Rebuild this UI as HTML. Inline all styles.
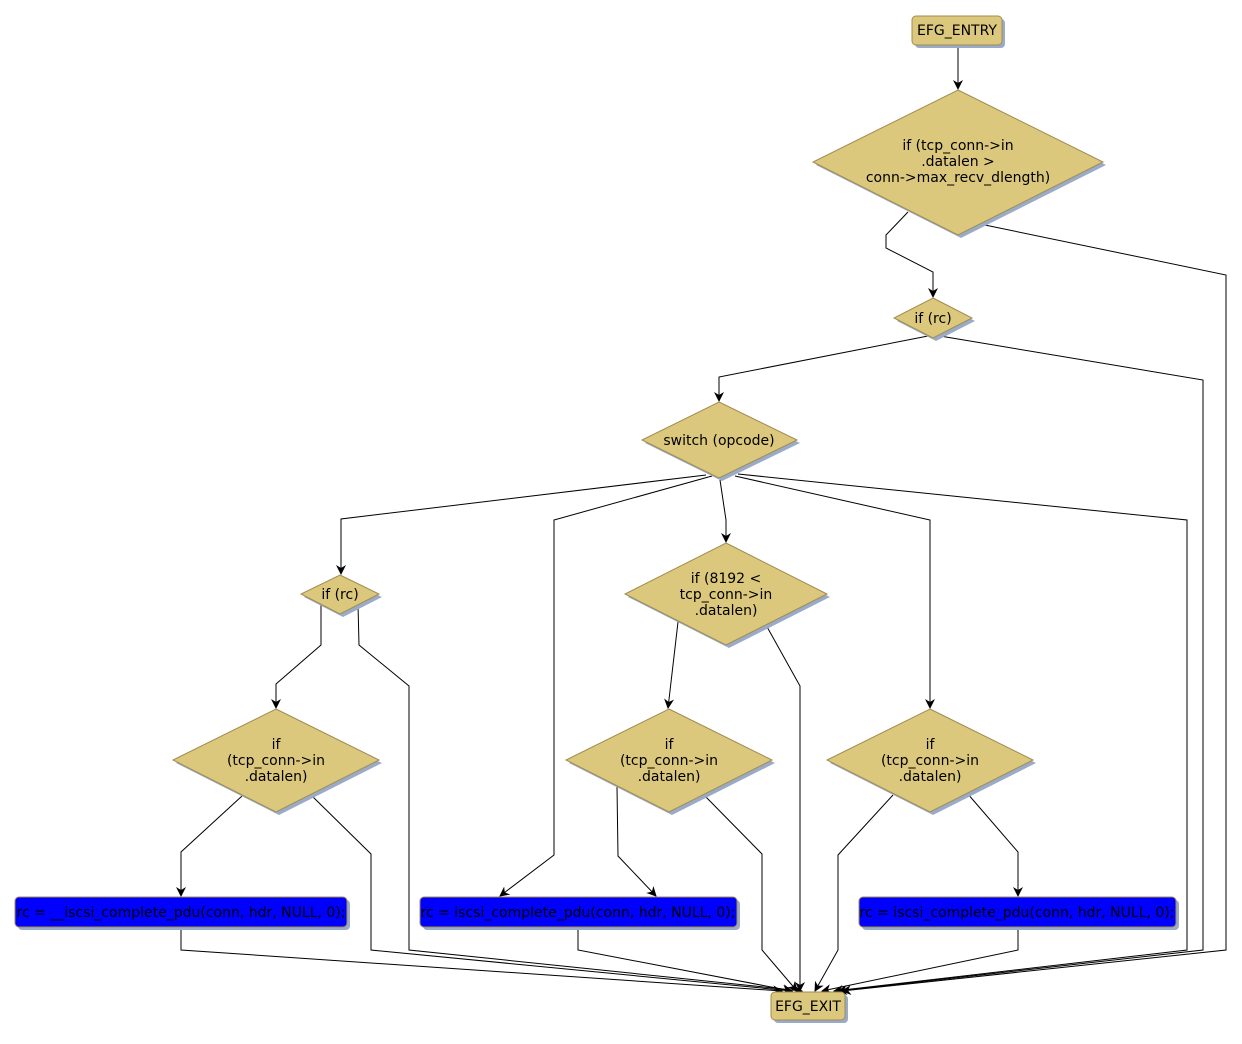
<!DOCTYPE html>
<html><head><meta charset="utf-8"><style>
html,body{margin:0;padding:0;background:#fff}
text{font-family:"DejaVu Sans","Liberation Sans",sans-serif;font-size:14px;fill:#000}
</style></head><body>
<svg width="1242" height="1039" viewBox="0 0 1242 1039" xmlns="http://www.w3.org/2000/svg">
<defs>
<marker id="a" markerWidth="10" markerHeight="10" refX="9" refY="5" orient="auto" markerUnits="userSpaceOnUse">
<path d="M0,0 L10,5 L0,10 L3,5 z" fill="#000"/></marker>
</defs>
<g fill="none" stroke="#000" stroke-width="1" marker-end="url(#a)">
<polyline points="958,45 958,89"/>
<polyline points="908,212 886,235 886,248 933,272 933,297"/>
<polyline points="980,224 1226,275 1226,950 842,991"/>
<polyline points="928,336 719,377 719,401"/>
<polyline points="940,336 1203,380 1203,950 838,991"/>
<polyline points="706,475 341,519 341,574"/>
<polyline points="712,476 554,520 554,855 500,896"/>
<polyline points="720,480 726,520 726,542"/>
<polyline points="735,476 930,520 930,708"/>
<polyline points="738,474 1187,520 1187,950 834,991"/>
<polyline points="321,604 321,645 276,684 276,708"/>
<polyline points="358,604 359,645 409,686 409,950 802,991"/>
<polyline points="678,622 668,708"/>
<polyline points="766,625 800,686 800,991"/>
<polyline points="242,796 181,852 181,896"/>
<polyline points="311,795 371,854 371,950 792,991"/>
<polyline points="617,787 618,856 656,896"/>
<polyline points="704,795 762,854 762,950 797,991"/>
<polyline points="893,795 838,855 838,950 815,991"/>
<polyline points="967,793 1018,852 1018,896"/>
<polyline points="181,927 181,950 782,991"/>
<polyline points="578,927 578,950 792,991"/>
<polyline points="1018,927 1018,950 822,991"/>
</g>
<g fill="#9aabc9">
<rect x="915" y="19" width="90" height="29" rx="4"/>
<polygon points="961,93 1106,165 961,238 816,165"/>
<polygon points="936,301 975,321 936,341 897,321"/>
<polygon points="722,405 800,443 722,481 645,443"/>
<polygon points="343,578 382,597 343,617 304,597"/>
<polygon points="729,546 830,597 729,648 628,597"/>
<polygon points="279,712 382,763 279,815 176,763"/>
<polygon points="672,712 775,763 672,815 569,763"/>
<polygon points="933,712 1036,763 933,815 830,763"/>
<rect x="18" y="900" width="332" height="30" rx="4"/>
<rect x="423" y="900" width="317" height="30" rx="4"/>
<rect x="862" y="900" width="317" height="30" rx="4"/>
<rect x="774" y="995" width="74" height="28" rx="4"/>
</g>
<g fill="#dbc87c" stroke="#a08c50" stroke-width="1">
<rect x="912" y="16" width="90" height="29" rx="4"/>
<polygon points="958,90 1103,162 958,235 813,162"/>
<polygon points="933,298 972,318 933,338 894,318"/>
<polygon points="719,402 797,440 719,478 642,440"/>
<polygon points="340,575 379,594 340,614 301,594"/>
<polygon points="726,543 827,594 726,645 625,594"/>
<polygon points="276,709 379,760 276,812 173,760"/>
<polygon points="669,709 772,760 669,812 566,760"/>
<polygon points="930,709 1033,760 930,812 827,760"/>
<rect x="771" y="992" width="74" height="28" rx="4"/>
</g>
<g fill="#0000ff" stroke="#a08c50">
<rect x="15" y="897" width="332" height="30" rx="4"/>
<rect x="420" y="897" width="317" height="30" rx="4"/>
<rect x="859" y="897" width="317" height="30" rx="4"/>
</g>
<g text-anchor="middle">
<text x="957" y="35">EFG_ENTRY</text>
<text x="958" y="150">if (tcp_conn-&gt;in</text>
<text x="958" y="166">.datalen &gt;</text>
<text x="958" y="182">conn-&gt;max_recv_dlength)</text>
<text x="933" y="323">if (rc)</text>
<text x="719" y="445">switch (opcode)</text>
<text x="340" y="599">if (rc)</text>
<text x="726" y="583">if (8192 &lt;</text>
<text x="726" y="599">tcp_conn-&gt;in</text>
<text x="726" y="615">.datalen)</text>
<text x="276" y="749">if</text><text x="276" y="765">(tcp_conn-&gt;in</text><text x="276" y="781">.datalen)</text>
<text x="669" y="749">if</text><text x="669" y="765">(tcp_conn-&gt;in</text><text x="669" y="781">.datalen)</text>
<text x="930" y="749">if</text><text x="930" y="765">(tcp_conn-&gt;in</text><text x="930" y="781">.datalen)</text>
<text x="181" y="917">rc = __iscsi_complete_pdu(conn, hdr, NULL, 0);</text>
<text x="578" y="917">rc = iscsi_complete_pdu(conn, hdr, NULL, 0);</text>
<text x="1017" y="917">rc = iscsi_complete_pdu(conn, hdr, NULL, 0);</text>
<text x="808" y="1011">EFG_EXIT</text>
</g>
</svg>
</body></html>
